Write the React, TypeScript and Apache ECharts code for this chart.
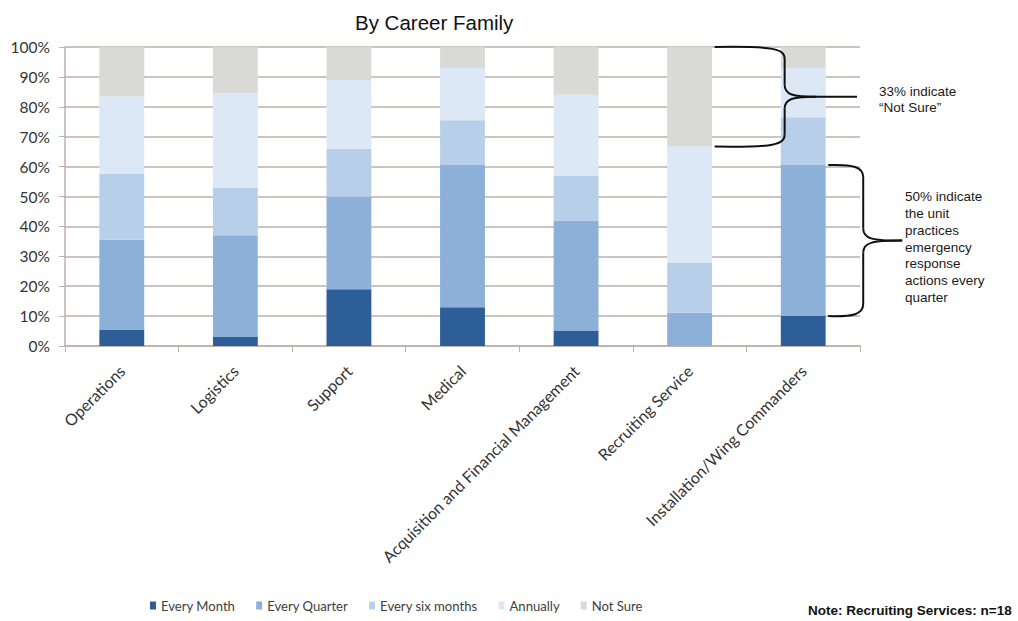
import React, { useEffect, useRef } from "react";
import * as echarts from "echarts";

const categories = [
  "Operations",
  "Logistics",
  "Support",
  "Medical",
  "Acquisition and Financial Management",
  "Recruiting Service",
  "Installation/Wing Commanders",
];
const seriesNames = ["Every Month", "Every Quarter", "Every six months", "Annually", "Not Sure"];
const everyMonth = [5.5, 3, 19, 13, 5, 0, 10];
const everyQuarter = [30, 34, 31, 47.5, 37, 11.1, 50.5];
const everySixMonths = [22, 16, 16, 15, 15, 16.7, 16];
const annually = [26, 31.5, 23, 17.5, 27, 38.9, 16.5];
const notSure = [16.5, 15.5, 11, 7, 16, 33.3, 7];
const colors = ["#2e5e98", "#8cb0d8", "#b8cfe9", "#dce8f5", "#d9d9d7"];
const yTicks = [0, 100, 10];

const note1 = ["33% indicate", "\u201cNot Sure\u201d"];
const note2 = ["50% indicate", "the unit", "practices", "emergency", "response", "actions every", "quarter"];

function brace(x0: number, xs: number, xTip: number, xEnd: number, yTop: number, yBot: number) {
  const yMid = (yTop + yBot) / 2;
  const r = 12;
  const st = { stroke: "#111", lineWidth: 2, fill: "none" };
  const z = 100;
  return [
    { type: "bezierCurve", z, shape: { x1: x0, y1: yTop, cpx1: xs - 10, cpy1: yTop - 1, cpx2: xs, cpy2: yTop + 2, x2: xs, y2: yTop + r }, style: st },
    { type: "line", z, shape: { x1: xs, y1: yTop + r, x2: xs, y2: yMid - r }, style: st },
    { type: "bezierCurve", z, shape: { x1: xs, y1: yMid - r, cpx1: xs, cpy1: yMid - 2, cpx2: xs + 8, cpy2: yMid, x2: xTip, y2: yMid }, style: st },
    { type: "bezierCurve", z, shape: { x1: xTip, y1: yMid, cpx1: xs + 8, cpy1: yMid, cpx2: xs, cpy2: yMid + 2, x2: xs, y2: yMid + r }, style: st },
    { type: "line", z, shape: { x1: xs, y1: yMid + r, x2: xs, y2: yBot - r }, style: st },
    { type: "bezierCurve", z, shape: { x1: xs, y1: yBot - r, cpx1: xs, cpy1: yBot - 2, cpx2: xs - 10, cpy2: yBot + 1, x2: x0, y2: yBot }, style: st },
    { type: "line", z, shape: { x1: xTip, y1: yMid, x2: xEnd, y2: yMid }, style: st },
  ];
}

export default function App() {
  const ref = useRef<HTMLDivElement>(null);
  useEffect(() => {
    if (!ref.current) return;
    const chart = echarts.init(ref.current, null, { renderer: "svg" });
    const data = [everyMonth, everyQuarter, everySixMonths, annually, notSure];
    const labelFont = "Lato, 'Open Sans', sans-serif";
    const gridColor = "#bdb0ad";
    chart.setOption({
      animation: false,
      backgroundColor: "#ffffff",
      title: {
        text: "By Career Family",
        left: 350,
        top: 7,
        textStyle: { fontFamily: "Liberation Sans, Arial, sans-serif", fontSize: 20.5, fontWeight: "normal", color: "#111" },
      },
      legend: {
        left: 145,
        top: 594,
        itemWidth: 6,
        itemHeight: 8,
        itemGap: 21,
        icon: "rect",
        textStyle: { fontFamily: labelFont, fontSize: 13.1, color: "#404040" },
        data: seriesNames,
      },
      grid: { left: 65, top: 47, width: 795, height: 299 },
      xAxis: {
        type: "category",
        data: categories,
        axisLine: { lineStyle: { color: gridColor, width: 1.5 } },
        axisTick: { show: true, alignWithLabel: false, length: 6, lineStyle: { color: gridColor } },
        axisLabel: { rotate: 45, fontFamily: labelFont, fontSize: 16, color: "#333", margin: 22, interval: 0 },
      },
      yAxis: {
        type: "value",
        min: yTicks[0],
        max: yTicks[1],
        interval: yTicks[2],
        axisLine: { show: true, lineStyle: { color: gridColor, width: 1.5 } },
        axisTick: { show: true, length: 6, lineStyle: { color: gridColor } },
        splitLine: { lineStyle: { color: gridColor, width: 1.5 } },
        axisLabel: { formatter: "{value}%", fontFamily: labelFont, fontSize: 15.5, color: "#333", margin: 15 },
      },
      series: seriesNames.map((name, i) => ({
        name,
        type: "bar",
        stack: "total",
        barWidth: "39.5%",
        data: data[i],
        itemStyle: { color: colors[i] },
      })),
    });

    const px = (cat: number, v: number) => chart.convertToPixel({ gridIndex: 0 }, [cat, v]) as number[];
    const recTop = px(5, 100);
    const recBot = px(5, 100 - notSure[5]);
    const instTop = px(6, everyMonth[6] + everyQuarter[6]);
    const instBot = px(6, everyMonth[6]);
    const b1 = brace(recTop[0] + 25, recTop[0] + 95, recTop[0] + 127, 857, recTop[1], recBot[1]);
    const b2 = brace(instTop[0] + 25, instTop[0] + 60, instTop[0] + 99, instTop[0] + 99, instTop[1], instBot[1]);
    const m1 = (recTop[1] + recBot[1]) / 2;
    const m2 = (instTop[1] + instBot[1]) / 2;
    const textStyle = { fontFamily: "Liberation Sans, Arial, sans-serif", fontSize: 13.5, fill: "#1a1a1a", lineHeight: 16.7 };
    chart.setOption({
      graphic: [
        ...b1,
        ...b2,
        { type: "text", z: 100, x: 879, y: m1 - 14, style: { ...textStyle, text: note1.join("\n") } },
        { type: "text", z: 100, x: 905, y: m2 - 52, style: { ...textStyle, text: note2.join("\n") } },
        {
          type: "text",
          z: 100,
          x: 808,
          y: 603,
          style: { text: "Note: Recruiting Services: n=18", fontFamily: "Liberation Sans, Arial, sans-serif", fontSize: 13.5, fontWeight: "bold", fill: "#111" },
        },
      ],
    });
    return () => chart.dispose();
  }, []);
  return <div ref={ref} style={{ width: 1018, height: 621, position: "absolute", left: 0, top: 0 }} />;
}
